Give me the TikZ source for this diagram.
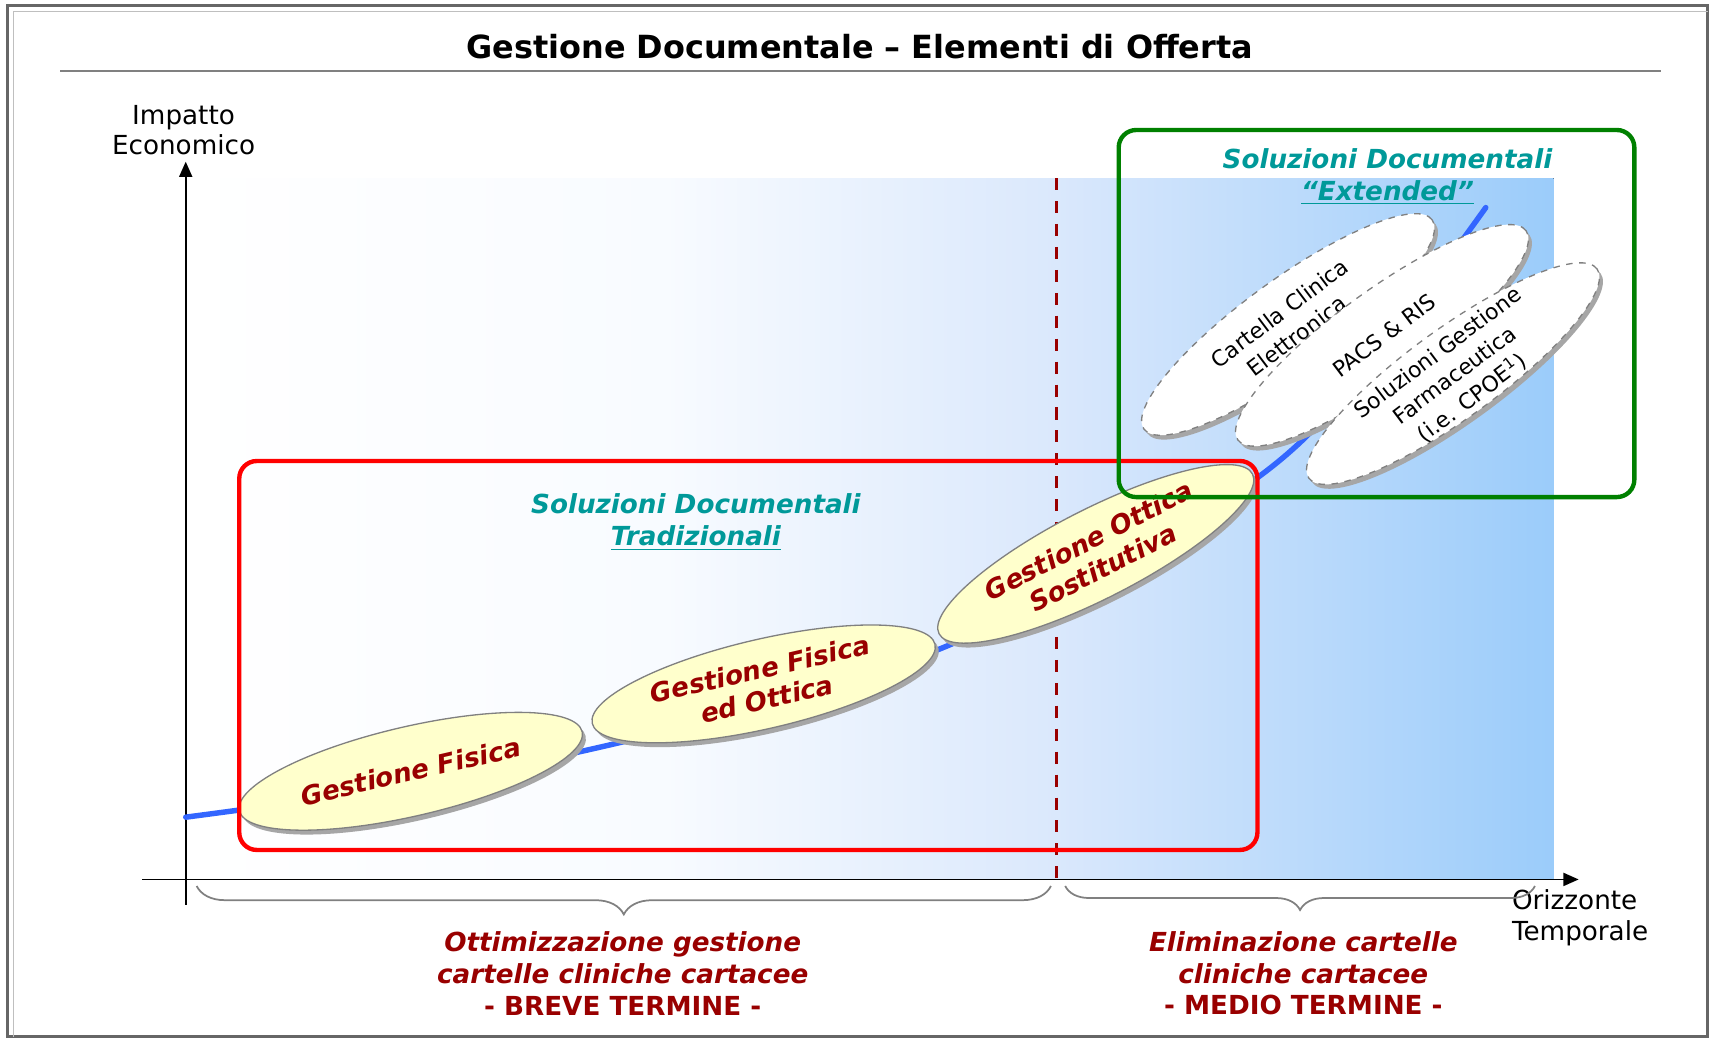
\documentclass[tikz,border=0pt]{standalone}
\usepackage{fontspec}
\setmainfont{DejaVu Sans}
\usetikzlibrary{shapes.geometric,shadows,decorations.pathreplacing,arrows.meta}
\definecolor{dred}{RGB}{153,0,0}
\definecolor{tealt}{RGB}{0,153,153}
\definecolor{curveblue}{RGB}{51,102,255}
\definecolor{yell}{RGB}{255,255,204}
\definecolor{gbox}{RGB}{0,128,0}
\definecolor{bgA}{RGB}{248,251,255}
\definecolor{bgB}{RGB}{218,232,252}
\definecolor{bgC}{RGB}{155,204,250}
\begin{document}
\begin{tikzpicture}[x=0.5pt,y=-0.5pt,
  every node/.style={inner sep=0pt, outer sep=0pt},
  eshadow/.style={drop shadow={shadow xshift=1.6pt, shadow yshift=-2pt, fill=black!35, opacity=1}},
  yellipse/.style={ellipse, draw=black!50, line width=0.6pt, fill=yell, minimum width=161pt, minimum height=41pt, eshadow},
  wellipse/.style={ellipse, draw=black!50, dashed, line width=0.6pt, fill=white, minimum width=163pt, minimum height=41pt, eshadow},
  ylab/.style={text=dred, font=\fontsize{12}{14}\selectfont\bfseries\itshape, align=center},
  wlab/.style={font=\fontsize{10}{13}\selectfont, align=center},
  tlab/.style={text=tealt, font=\fontsize{12}{14.5}\selectfont\bfseries\itshape, align=center},
  axlab/.style={font=\fontsize{12}{14}\selectfont},
  blab/.style={text=dred, font=\fontsize{12}{14.5}\selectfont\bfseries\itshape, align=center},
  brc/.style={draw=black!50, line width=0.8pt, decorate, decoration={brace, mirror, amplitude=#1}},
  axisline/.style={draw=black, line width=0.8pt, -{Triangle[length=7pt,width=6pt]}},
  boxframe/.style={rectangle, rounded corners=8pt, line width=2pt, minimum width=#1},
]
\useasboundingbox (0,0) rectangle (1568,951);
% frame and title
\draw[black!60, line width=1.2pt] (7,5) rectangle (1563,949);
\draw[black!25, line width=0.7pt] (12.5,949) -- (12.5,10.5) -- (1563,10.5);
\node[font=\fontsize{14.6}{17}\selectfont\bfseries] (title) at (787,43) {Gestione Documentale – Elementi di Offerta};
\coordinate (tl1) at (55,65);
\coordinate (tl2) at (1520,65);
\draw[black!50, line width=1pt] (tl1) -- (tl2);
% background gradient
\fill[left color=white, right color=bgA] (170,163) rectangle (609,805);
\fill[left color=bgA, right color=bgB] (608,163) rectangle (968,805);
\fill[left color=bgB, right color=bgC] (967,163) rectangle (1422,805);
% dashed separator
\coordinate (sepT) at (967,163);
\coordinate (sepB) at (967,805);
\draw[dred, line width=1.3pt, dash pattern=on 5.5pt off 5pt] (sepT) -- (sepB);
% axes
\coordinate (xa0) at (130,805);
\coordinate (xa1) at (1445,805);
\coordinate (ya0) at (170,828);
\coordinate (ya1) at (170,148);
\draw[axisline] (xa0) -- (xa1);
\draw[axisline] (ya0) -- (ya1);
\node[axlab, align=center] (ylabel) at (168,119) {Impatto\\Economico};
\node[axlab, align=left, anchor=west] (xlabel) at (1384,840) {Orizzonte\\Temporale};
% braces
\coordinate (b1a) at (180,811);
\coordinate (b1b) at (962,811);
\coordinate (b2a) at (975,811);
\coordinate (b2b) at (1405,811);
\draw[brc=13pt] (b1a) -- (b1b);
\draw[brc=11pt] (b2a) -- (b2b);
\node[blab] (short) at (570,891) {Ottimizzazione gestione\\cartelle cliniche cartacee\\\textup{- BREVE TERMINE -}};
\node[blab] (medium) at (1193,891) {Eliminazione cartelle\\cliniche cartacee\\\textup{- MEDIO TERMINE -}};
% trend curve
\draw[curveblue, line width=2.5pt, line cap=round] plot[smooth, tension=0.6] coordinates {(170,748) (300,730) (450,705) (600,672) (750,633) (870,590) (980,537) (1080,480) (1150,438) (1210,385) (1270,310) (1320,245) (1360,190)};
% traditional solutions
\node[yellipse, rotate=13] (e1) at (376,706) {};
\node[ylab, rotate=13] (t1) at (e1.center) {Gestione Fisica};
\node[yellipse, rotate=13] (e2) at (699,626) {};
\node[ylab, rotate=13] (t2) at (e2.center) {Gestione Fisica\\ed Ottica};
\node[yellipse, rotate=27] (e3) at (1003,507) {};
\node[ylab, rotate=27] (t3) at (e3.center) {Gestione Ottica\\Sostitutiva};
% extended solutions
\node[wellipse, rotate=36] (w1) at (1179,297) {};
\node[wlab, rotate=37] (u1) at (w1.center) {Cartella Clinica\\Elettronica};
\node[wellipse, rotate=36] (w2) at (1265,307) {};
\node[wlab, rotate=37] (u2) at (1267,307) {PACS \& RIS};
\node[wellipse, rotate=36] (w3) at (1330,342) {};
\node[wlab, rotate=37] (u3) at (1332,344) {Soluzioni Gestione\\Farmaceutica\\(i.e. CPOE\textsuperscript{1})};
% boxes
\node[boxframe=466pt, draw=red, minimum height=178pt] (redbox) at (685,600) {};
\node[boxframe=236pt, draw=gbox, minimum height=168pt] (greenbox) at (1260,287) {};
\node[tlab] (trad) at (637,478) {Soluzioni Documentali\\\underline{Tradizionali}};
\node[tlab] (ext) at (1270,162) {Soluzioni Documentali\\\underline{“Extended”}};
\end{tikzpicture}
\end{document}
